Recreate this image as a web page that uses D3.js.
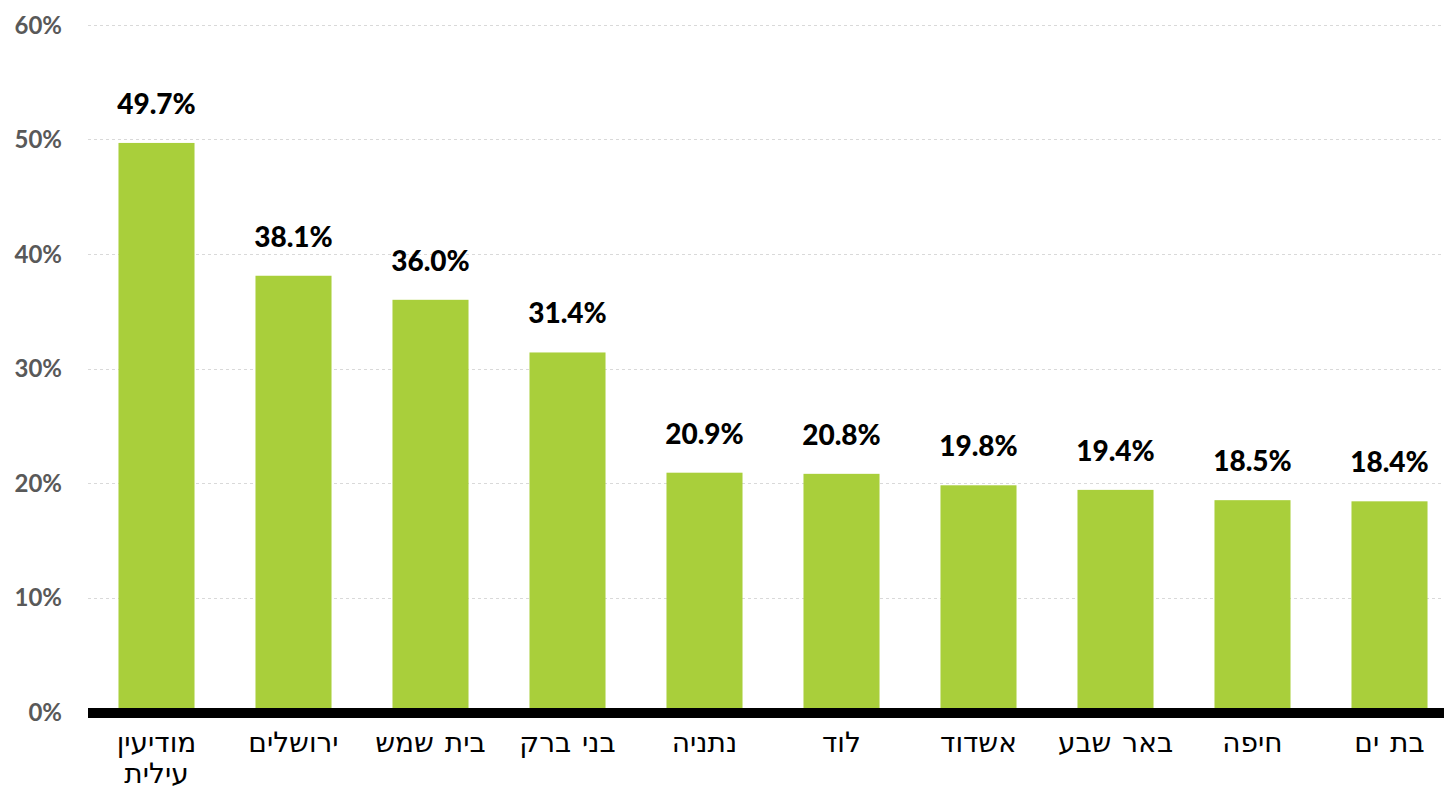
<!DOCTYPE html>
<html>
<head>
<meta charset="utf-8">
<script src="https://cdn.jsdelivr.net/npm/d3@7"></script>
<style>
  body { margin: 0; background: #fff; }
  .ytick { font-family: Lato, "Open Sans", sans-serif; font-weight: bold; font-size: 24px; fill: #595959; }
  .val { font-family: Lato, "Open Sans", sans-serif; font-weight: 900; font-size: 28px; fill: #000; }
  .cat { font-family: "DejaVu Sans", "Liberation Sans", sans-serif; font-size: 28px; word-spacing: 2px; fill: #000; }
</style>
</head>
<body>
<svg id="chart"></svg>
<script>
// cities, in chart order (left to right)
var cities = [["מודיעין", "עילית"], ["ירושלים"], ["בית שמש"], ["בני ברק"], ["נתניה"],
              ["לוד"], ["אשדוד"], ["באר שבע"], ["חיפה"], ["בת ים"]];
var shares = [49.7, 38.1, 36.0, 31.4, 20.9, 20.8, 19.8, 19.4, 18.5, 18.4];
var yTicks = [0, 10, 20, 30, 40, 50, 60];

var screen = {width:1444, height:787};
var margins = {left:88, top:25, baseline:712};

var svg = d3.select("#chart")
    .attr("width", screen.width)
    .attr("height", screen.height);

var xScale = d3.scaleBand()
    .domain(d3.range(cities.length))
    .range([margins.left, margins.left + 137 * cities.length])
    .paddingInner(0.445)
    .paddingOuter(0.2225);

var yScale = d3.scaleLinear()
    .domain([0, 60])
    .range([margins.baseline, margins.top]);

// gridlines
svg.append("g")
    .selectAll("line")
    .data(yTicks.filter(function(t){ return t > 0; }))
    .enter()
    .append("line")
    .attr("x1", margins.left)
    .attr("x2", screen.width)
    .attr("y1", function(t){ return Math.round(yScale(t)) + 0.5; })
    .attr("y2", function(t){ return Math.round(yScale(t)) + 0.5; })
    .attr("stroke", "#d9d9d9")
    .attr("stroke-dasharray", "3,3");

// y tick labels
svg.append("g")
    .selectAll("text")
    .data(yTicks)
    .enter()
    .append("text")
    .classed("ytick", true)
    .attr("x", 62)
    .attr("y", function(t){ return yScale(t); })
    .attr("dy", "0.36em")
    .attr("text-anchor", "end")
    .text(function(t){ return t + "%"; });

// bars
svg.append("g")
    .selectAll("rect")
    .data(shares)
    .enter()
    .append("rect")
    .attr("x", function(d,i){ return xScale(i); })
    .attr("width", xScale.bandwidth())
    .attr("y", function(d){ return yScale(d); })
    .attr("height", function(d){ return yScale(0) - yScale(d); })
    .attr("fill", "#a9cf3b");

// value labels
svg.append("g")
    .selectAll("text")
    .data(shares)
    .enter()
    .append("text")
    .classed("val", true)
    .attr("x", function(d,i){ return xScale(i) + xScale.bandwidth()/2; })
    .attr("y", function(d){ return yScale(d) - 29; })
    .attr("text-anchor", "middle")
    .text(function(d){ return d.toFixed(1) + "%"; });

// baseline
svg.append("line")
    .attr("x1", margins.left)
    .attr("x2", screen.width)
    .attr("y1", yScale(0) + 1)
    .attr("y2", yScale(0) + 1)
    .attr("stroke", "#000")
    .attr("stroke-width", 10);

// category labels
var cats = svg.append("g")
    .selectAll("text")
    .data(cities)
    .enter()
    .append("text")
    .classed("cat", true)
    .attr("text-anchor", "middle")
    .attr("direction", "rtl")
    .attr("x", function(d,i){ return xScale(i) + xScale.bandwidth()/2; })
    .attr("y", 752);

cats.selectAll("tspan")
    .data(function(d){ return d; })
    .enter()
    .append("tspan")
    .attr("x", function(){ return d3.select(this.parentNode).attr("x"); })
    .attr("dy", function(d,i){ return i === 0 ? 0 : 31; })
    .text(function(d){ return d; });
</script>
</body>
</html>
